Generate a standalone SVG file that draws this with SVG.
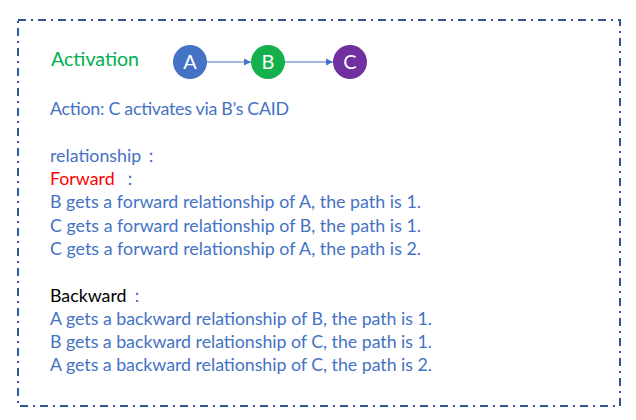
<svg xmlns="http://www.w3.org/2000/svg" width="636" height="420" viewBox="0 0 636 420">
<style>
.t{font-family:Lato,"Open Sans","Liberation Sans",sans-serif;font-size:17.8px;fill:#4472C4}
.n{font-family:Lato,"Open Sans","Liberation Sans",sans-serif;font-size:20px;fill:#fff;text-anchor:middle}
.e{stroke:#4472C4;stroke-width:1.2;fill:none}
</style>
<defs>
<marker id="ah" markerWidth="8" markerHeight="8" refX="7" refY="4" orient="auto" markerUnits="userSpaceOnUse">
<path d="M0,0.5 L7,4 L0,7.5 Z" fill="#4472C4"/>
</marker>
</defs>
<rect x="18" y="20" width="602" height="386" fill="none" stroke="#2F5597" stroke-width="2" stroke-dasharray="8,5,2,5"/>
<text class="t" x="51" y="66" style="font-size:19.6px;fill:#00B050">Activation</text>
<g id="connectors">
<line class="e" x1="207" y1="62" x2="251" y2="62" marker-end="url(#ah)"/>
<line class="e" x1="285" y1="62" x2="333" y2="62" marker-end="url(#ah)"/>
</g>
<g id="nodeA"><circle cx="190" cy="62" r="17" fill="#4472C4"/><text class="n" x="190" y="69">A</text></g>
<g id="nodeB"><circle cx="268" cy="62" r="17" fill="#14B04C"/><text class="n" x="268" y="69">B</text></g>
<g id="nodeC"><circle cx="350" cy="62" r="17" fill="#7030A0"/><text class="n" x="350" y="69">C</text></g>
<text class="t" x="50" y="115" textLength="239">Action: C activates via B’s CAID</text>
<text class="t" x="50" y="162">relationship<tspan dx="1">：</tspan></text>
<text class="t" x="50" y="185"><tspan style="fill:#FF0000">Forward</tspan><tspan dx="6">：</tspan></text>
<text class="t" x="50" y="208" textLength="371">B gets a forward relationship of A, the path is 1.</text>
<text class="t" x="50" y="232" textLength="371">C gets a forward relationship of B, the path is 1.</text>
<text class="t" x="50" y="255" textLength="371">C gets a forward relationship of A, the path is 2.</text>
<text class="t" x="50" y="302"><tspan style="fill:#000">Backward</tspan><tspan dx="1">：</tspan></text>
<text class="t" x="50" y="325" textLength="382">A gets a backward relationship of B, the path is 1.</text>
<text class="t" x="50" y="348" textLength="382">B gets a backward relationship of C, the path is 1.</text>
<text class="t" x="50" y="371" textLength="382">A gets a backward relationship of C, the path is 2.</text>
</svg>
